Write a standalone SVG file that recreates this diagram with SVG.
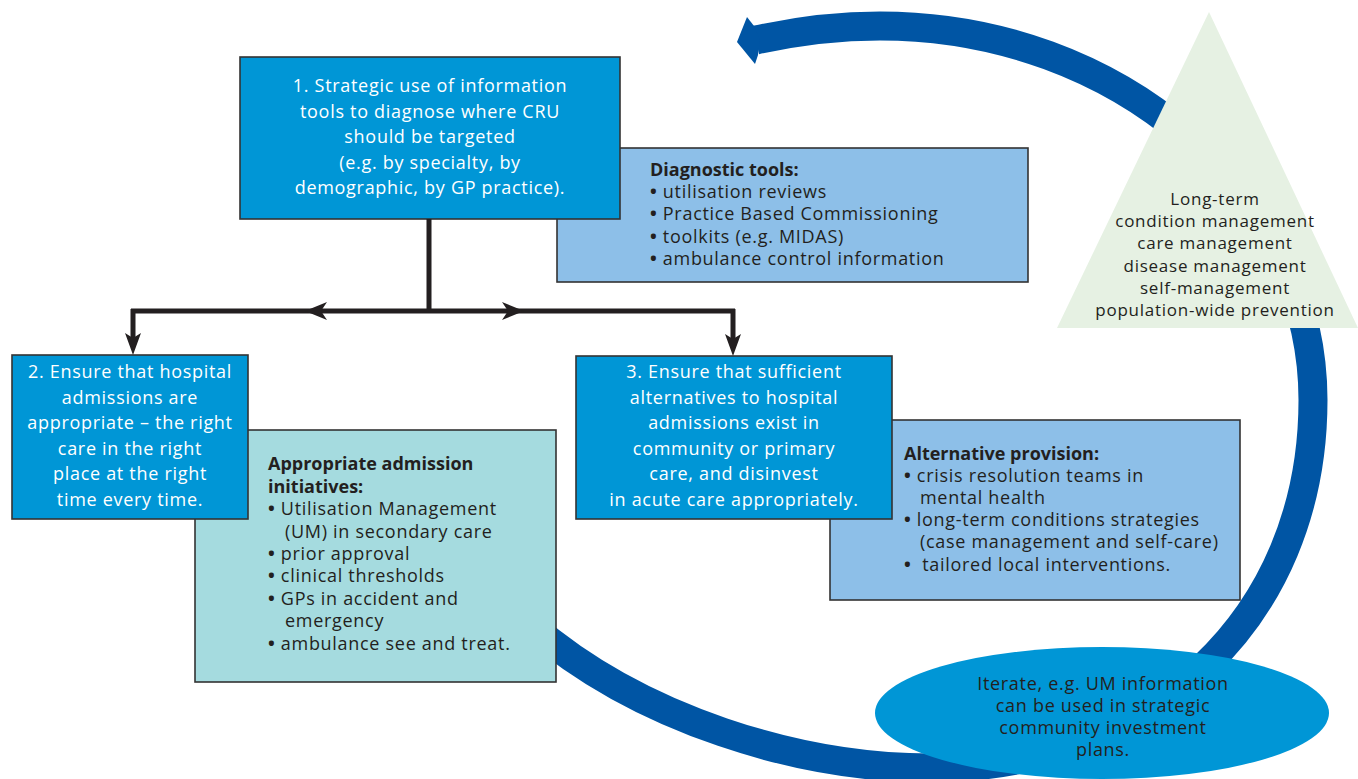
<svg xmlns="http://www.w3.org/2000/svg" width="1358" height="779" viewBox="0 0 1358 779">
<style>
.t{font-family:"Open Sans","Liberation Sans",sans-serif;font-size:18px;letter-spacing:0.7px;fill:#231f20}
.w{fill:#ffffff;text-anchor:middle}
.c{text-anchor:middle}
.b{font-weight:bold;letter-spacing:0}
.s{font-size:17px;letter-spacing:0.75px}
.bu{font-weight:bold}
.box{stroke:#333333;stroke-width:1.6}
.blue{fill:#0096d6}
.lb{fill:#8dbfe8}
.teal{fill:#a5dbdf}
.con{stroke:#231f20;stroke-width:5;fill:none}
.ah{fill:#231f20}
</style>
<g id="cycle">
<path d="M 756,40 C 797,31 838,26 880,26 C 1119,26 1313,194 1313,400 C 1313,620 1150,768 930,768 C 800,768 640,720 530,625" fill="none" stroke="#0055a4" stroke-width="29"/>
<polygon points="737,42 747,17 754,26 760,40 758,55 755,64" fill="#0055a4"/>
</g>
<g id="diagnostic">
<rect class="box lb" x="557" y="148" width="471" height="134"/>
<text class="t b" x="650" y="176">Diagnostic tools:</text>
<text class="t" x="650" y="198"><tspan class="bu">•</tspan> utilisation reviews</text>
<text class="t" x="650" y="220"><tspan class="bu">•</tspan> Practice Based Commissioning</text>
<text class="t" x="650" y="243"><tspan class="bu">•</tspan> toolkits (e.g. MIDAS)</text>
<text class="t" x="650" y="265"><tspan class="bu">•</tspan> ambulance control information</text>
</g>
<g id="step1">
<rect class="box blue" x="240" y="57" width="380" height="162"/>
<text class="t w" x="430" y="92">1. Strategic use of information</text>
<text class="t w" x="430" y="118">tools to diagnose where CRU</text>
<text class="t w" x="430" y="143">should be targeted</text>
<text class="t w" x="430" y="169">(e.g. by specialty, by</text>
<text class="t w" x="430" y="194">demographic, by GP practice).</text>
</g>
<g id="admission">
<rect class="box teal" x="195" y="430" width="361" height="252"/>
<text class="t b" x="268" y="470">Appropriate admission</text>
<text class="t b" x="268" y="493">initiatives:</text>
<text class="t" x="268" y="515"><tspan class="bu">•</tspan> Utilisation Management</text>
<text class="t" x="285" y="538">(UM) in secondary care</text>
<text class="t" x="268" y="560"><tspan class="bu">•</tspan> prior approval</text>
<text class="t" x="268" y="582"><tspan class="bu">•</tspan> clinical thresholds</text>
<text class="t" x="268" y="605"><tspan class="bu">•</tspan> GPs in accident and</text>
<text class="t" x="285" y="627">emergency</text>
<text class="t" x="268" y="650"><tspan class="bu">•</tspan> ambulance see and treat.</text>
</g>
<g id="step2">
<rect class="box blue" x="12" y="355" width="236" height="164"/>
<text class="t w" x="130" y="378">2. Ensure that hospital</text>
<text class="t w" x="130" y="404">admissions are</text>
<text class="t w" x="130" y="429">appropriate – the right</text>
<text class="t w" x="130" y="455">care in the right</text>
<text class="t w" x="130" y="480">place at the right</text>
<text class="t w" x="130" y="506">time every time.</text>
</g>
<g id="alternative">
<rect class="box lb" x="830" y="420" width="410" height="180"/>
<text class="t b" x="904" y="460">Alternative provision:</text>
<text class="t" x="904" y="482"><tspan class="bu">•</tspan> crisis resolution teams in</text>
<text class="t" x="920" y="504">mental health</text>
<text class="t" x="904" y="526"><tspan class="bu">•</tspan> long-term conditions strategies</text>
<text class="t" x="920" y="548">(case management and self-care)</text>
<text class="t" x="904" y="571"><tspan class="bu">•</tspan> &#160;tailored local interventions.</text>
</g>
<g id="step3">
<rect class="box blue" x="576" y="356" width="316" height="163"/>
<text class="t w" x="734" y="378">3. Ensure that sufficient</text>
<text class="t w" x="734" y="404">alternatives to hospital</text>
<text class="t w" x="734" y="429">admissions exist in</text>
<text class="t w" x="734" y="455">community or primary</text>
<text class="t w" x="734" y="480">care, and disinvest</text>
<text class="t w" x="734" y="506">in acute care appropriately.</text>
</g>
<g id="pyramid">
<polygon points="1209,12 1057,328 1358,328" fill="#e6f1e3"/>
<text class="t s c" x="1215" y="205">Long-term</text>
<text class="t s c" x="1215" y="227">condition management</text>
<text class="t s c" x="1215" y="249">care management</text>
<text class="t s c" x="1215" y="272">disease management</text>
<text class="t s c" x="1215" y="294">self-management</text>
<text class="t s c" x="1215" y="316">population-wide prevention</text>
</g>
<g id="iterate">
<ellipse cx="1102" cy="713" rx="227" ry="66" fill="#0096d6"/>
<text class="t c" x="1103" y="690">Iterate, e.g. UM information</text>
<text class="t c" x="1103" y="712">can be used in strategic</text>
<text class="t c" x="1103" y="734">community investment</text>
<text class="t c" x="1103" y="756">plans.</text>
</g>
<g id="connectors">
<path class="con" d="M 429,219 V 311 M 131,311 H 735 M 133,309 V 340 M 733,309 V 340"/>
<path class="ah" d="M 305,311 L 327,302 L 321,311 L 327,320 Z"/>
<path class="ah" d="M 524,311 L 502,302 L 508,311 L 502,320 Z"/>
<path class="ah" d="M 133,355 L 125,333 L 133,338 L 141,333 Z"/>
<path class="ah" d="M 733,356 L 725,334 L 733,339 L 741,334 Z"/>
</g>
</svg>
